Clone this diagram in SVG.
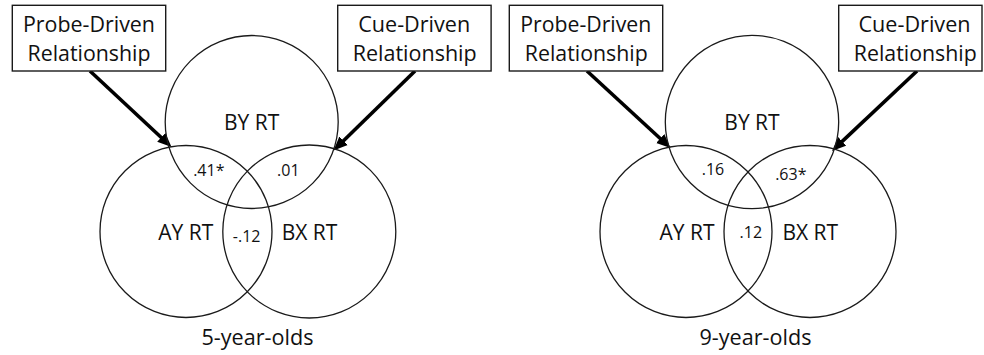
<svg xmlns="http://www.w3.org/2000/svg" width="984" height="355" viewBox="0 0 984 355">
<style>
.bg{fill:#ffffff}
.box{fill:#ffffff;stroke:#1a1a1a;stroke-width:1.4}
.circ{fill:none;stroke:#1a1a1a;stroke-width:1.3}
.arrow{fill:none;stroke:#000;stroke-width:3.6}
text{font-family:"Open Sans","Liberation Sans",sans-serif;fill:#111;text-anchor:middle}
.bt{font-size:21px}
.lab{font-size:21px}
.num{font-size:16px}
.cap{font-size:21px}
</style>
<defs>
<marker id="ah" markerUnits="userSpaceOnUse" markerWidth="15" markerHeight="13" viewBox="0 -6.5 15 13" refX="4" refY="0" orient="auto">
<path d="M0,-6 L14,0 L0,6 z" fill="#000"/>
</marker>
</defs>
<rect class="bg" x="0" y="0" width="984" height="355"/>

<g id="connectors">
<line class="arrow" x1="90" y1="71" x2="164.2" y2="140.2" marker-end="url(#ah)"/>
<line class="arrow" x1="415" y1="71" x2="340.7" y2="143.5" marker-end="url(#ah)"/>
<line class="arrow" x1="587" y1="71" x2="663.2" y2="141.2" marker-end="url(#ah)"/>
<line class="arrow" x1="917" y1="71" x2="839.3" y2="144.1" marker-end="url(#ah)"/>
</g>

<!-- 5-year-olds panel -->
<g id="probe5">
<rect class="box" x="12.3" y="5.3" width="153.4" height="65.7"/>
<text class="bt" x="89" y="32" textLength="132" lengthAdjust="spacingAndGlyphs">Probe-Driven</text>
<text class="bt" x="89" y="61" textLength="123" lengthAdjust="spacingAndGlyphs">Relationship</text>
</g>
<g id="cue5">
<rect class="box" x="337.7" y="5.3" width="153.4" height="65.7"/>
<text class="bt" x="414.2" y="32" textLength="112" lengthAdjust="spacingAndGlyphs">Cue-Driven</text>
<text class="bt" x="414.7" y="61" textLength="124" lengthAdjust="spacingAndGlyphs">Relationship</text>
</g>
<g id="by5">
<circle class="circ" cx="251.7" cy="122" r="86.5"/>
<text class="lab" x="251.7" y="130">BY RT</text>
</g>
<g id="ay5">
<circle class="circ" cx="186" cy="231.5" r="86"/>
<text class="lab" x="185.8" y="240">AY RT</text>
</g>
<g id="bx5">
<circle class="circ" cx="309.3" cy="231.5" r="86.5"/>
<text class="lab" x="309.5" y="240">BX RT</text>
</g>
<g id="vals5">
<text class="num" x="208.8" y="176">.41*</text>
<text class="num" x="288.3" y="176">.01</text>
<text class="num" x="246.7" y="242">-.12</text>
</g>
<text class="cap" x="257.5" y="345" textLength="112" lengthAdjust="spacingAndGlyphs">5-year-olds</text>

<!-- 9-year-olds panel -->
<g id="probe9">
<rect class="box" x="509.3" y="5.3" width="153.4" height="65.7"/>
<text class="bt" x="585.8" y="32" textLength="131" lengthAdjust="spacingAndGlyphs">Probe-Driven</text>
<text class="bt" x="586.3" y="61" textLength="123" lengthAdjust="spacingAndGlyphs">Relationship</text>
</g>
<g id="cue9">
<rect class="box" x="838.7" y="5.3" width="143.3" height="65.7"/>
<text class="bt" x="914.5" y="32" textLength="112" lengthAdjust="spacingAndGlyphs">Cue-Driven</text>
<text class="bt" x="915.3" y="61" textLength="123" lengthAdjust="spacingAndGlyphs">Relationship</text>
</g>
<g id="by9">
<circle class="circ" cx="752" cy="122" r="86.7"/>
<text class="lab" x="752" y="130">BY RT</text>
</g>
<g id="ay9">
<circle class="circ" cx="686" cy="231.5" r="86"/>
<text class="lab" x="687" y="240">AY RT</text>
</g>
<g id="bx9">
<circle class="circ" cx="810" cy="231.5" r="86"/>
<text class="lab" x="810.3" y="240">BX RT</text>
</g>
<g id="vals9">
<text class="num" x="713" y="175">.16</text>
<text class="num" x="790.8" y="180">.63*</text>
<text class="num" x="750.8" y="238.3">.12</text>
</g>
<text class="cap" x="755.5" y="345" textLength="112" lengthAdjust="spacingAndGlyphs">9-year-olds</text>
</svg>
